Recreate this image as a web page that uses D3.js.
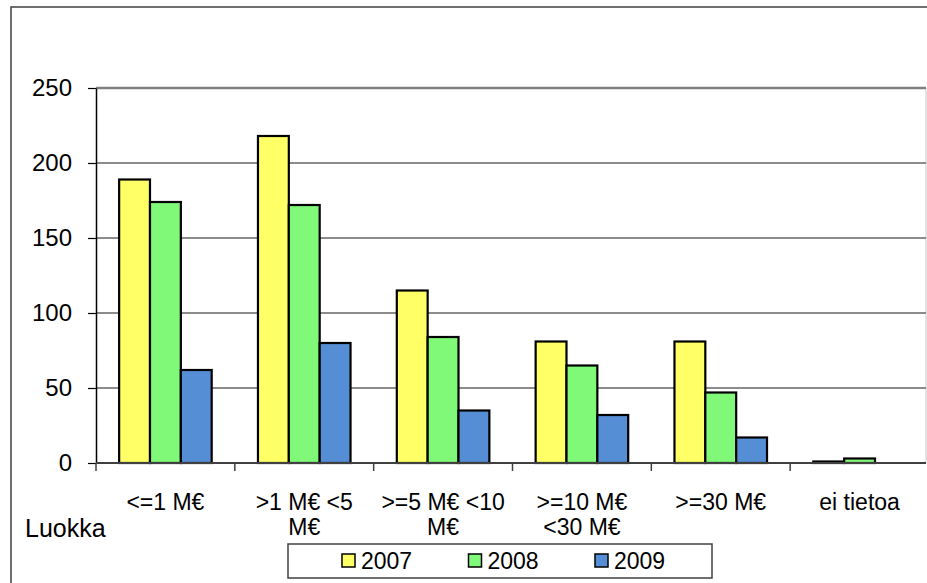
<!DOCTYPE html>
<html>
<head>
<meta charset="utf-8">
<script src="https://cdn.jsdelivr.net/npm/d3@7"></script>
<style>
  html, body { margin: 0; padding: 0; background: #fff; }
  svg { display: block; font-family: Arial, "Liberation Sans", sans-serif; }
</style>
</head>
<body>
<svg id="chart" width="927" height="583"></svg>
<script>
// Size classes (revenue brackets) and the wrapped label lines under each group
const categories = ["<=1 M€", ">1 M€ <5 M€", ">=5 M€ <10 M€", ">=10 M€ <30 M€", ">=30 M€", "ei tietoa"];
const categoryLines = [["<=1 M€"], [">1 M€ <5", "M€"], [">=5 M€ <10", "M€"], [">=10 M€", "<30 M€"], [">=30 M€"], ["ei tietoa"]];

// One value per size class for each year
const series = ["2007", "2008", "2009"];
const values2007 = [189, 218, 115, 81, 81, 1];
const values2008 = [174, 172, 84, 65, 47, 3];
const values2009 = [62, 80, 35, 32, 17, 0];
const seriesValues = [values2007, values2008, values2009];
const seriesColors = ["#ffff66", "#80f878", "#558ed5"];

const yTicks = [0, 50, 100, 150, 200, 250];
const axisTitle = "Luokka";

const svg = d3.select("#chart");

// Outer chart frame (only left/top edges fall inside the viewport)
svg.append("rect")
  .attr("x", 11).attr("y", 7)
  .attr("width", 940).attr("height", 600)
  .attr("fill", "none").attr("stroke", "#404040").attr("stroke-width", 1.5);

const plot = { left: 96, right: 929, top: 88, bottom: 463 };

const x = d3.scaleBand().domain(categories).range([plot.left, plot.right]).paddingInner(0).paddingOuter(0);
const xs = d3.scaleBand().domain(series).range([0, x.bandwidth()]).paddingInner(0).paddingOuter(0.75);
const y = d3.scaleLinear().domain([0, 250]).range([plot.bottom, plot.top]);

// Plot area right edge
svg.append("line")
  .attr("x1", 926).attr("x2", 926)
  .attr("y1", y(250)).attr("y2", y(0))
  .attr("stroke", "#c8c8c8").attr("stroke-width", 1);

// Horizontal gridlines
svg.append("g").selectAll("line")
  .data(yTicks.filter(t => t > 0))
  .join("line")
  .attr("x1", plot.left).attr("x2", 926)
  .attr("y1", d => y(d)).attr("y2", d => y(d))
  .attr("stroke", d => d === 250 ? "#808080" : "#666")
  .attr("stroke-width", d => d === 250 ? 2.5 : 1.5);

// Bars
const rows = categories.map((c, i) => ({ c, vals: series.map((s, k) => ({ s, k, v: seriesValues[k][i] })) }));
svg.append("g").selectAll("g")
  .data(rows)
  .join("g")
  .attr("transform", d => `translate(${x(d.c)},0)`)
  .selectAll("rect")
  .data(d => d.vals)
  .join("rect")
  .attr("x", d => xs(d.s))
  .attr("width", xs.bandwidth())
  .attr("y", d => y(d.v))
  .attr("height", d => y(0) - y(d.v))
  .attr("fill", d => seriesColors[d.k])
  .attr("stroke", "#000")
  .attr("stroke-width", 2.2);

// Y axis
const yAxis = svg.append("g")
  .attr("transform", `translate(${plot.left},0)`)
  .call(d3.axisLeft(y).tickValues(yTicks).tickSize(8).tickPadding(16).tickSizeOuter(0));
yAxis.select(".domain").attr("stroke", "#000").attr("stroke-width", 1.5);
yAxis.selectAll(".tick line").attr("stroke", "#000").attr("stroke-width", 1.2);
yAxis.selectAll(".tick text").attr("font-size", 24).attr("fill", "#000")
  .attr("font-family", "Arial, 'Liberation Sans', sans-serif");

// X axis line and category separator ticks
svg.append("line")
  .attr("x1", plot.left).attr("x2", 926)
  .attr("y1", y(0)).attr("y2", y(0))
  .attr("stroke", "#404040").attr("stroke-width", 2);
svg.append("g").selectAll("line")
  .data(categories)
  .join("line")
  .attr("x1", d => x(d)).attr("x2", d => x(d))
  .attr("y1", y(0)).attr("y2", y(0) + 8)
  .attr("stroke", "#404040").attr("stroke-width", 1.5);

// Category labels
svg.append("g").selectAll("text")
  .data(categories)
  .join("text")
  .attr("x", d => x(d) + x.bandwidth() / 2)
  .attr("y", 510)
  .attr("text-anchor", "middle")
  .attr("font-size", 23)
  .attr("fill", "#000")
  .selectAll("tspan")
  .data((d, i) => categoryLines[i])
  .join("tspan")
  .attr("x", function () { return d3.select(this.parentNode).attr("x"); })
  .attr("dy", (d, j) => j === 0 ? 0 : 25)
  .text(d => d);

// Axis title
svg.append("text")
  .attr("x", 25).attr("y", 537)
  .attr("font-size", 25).attr("fill", "#000")
  .text(axisTitle);

// Legend
const legend = svg.append("g");
legend.append("rect")
  .attr("x", 288).attr("y", 544).attr("width", 424).attr("height", 34)
  .attr("fill", "#fff").attr("stroke", "#404040").attr("stroke-width", 1.5);
const items = legend.selectAll("g.item")
  .data(series)
  .join("g")
  .attr("class", "item")
  .attr("transform", (d, i) => `translate(${342 + i * 126.5},0)`);
items.append("rect")
  .attr("x", 0).attr("y", 554).attr("width", 13).attr("height", 13)
  .attr("fill", (d, i) => seriesColors[i])
  .attr("stroke", "#000").attr("stroke-width", 1.5);
items.append("text")
  .attr("x", 19).attr("y", 569)
  .attr("font-size", 23).attr("fill", "#000")
  .text(d => d);
</script>
</body>
</html>
